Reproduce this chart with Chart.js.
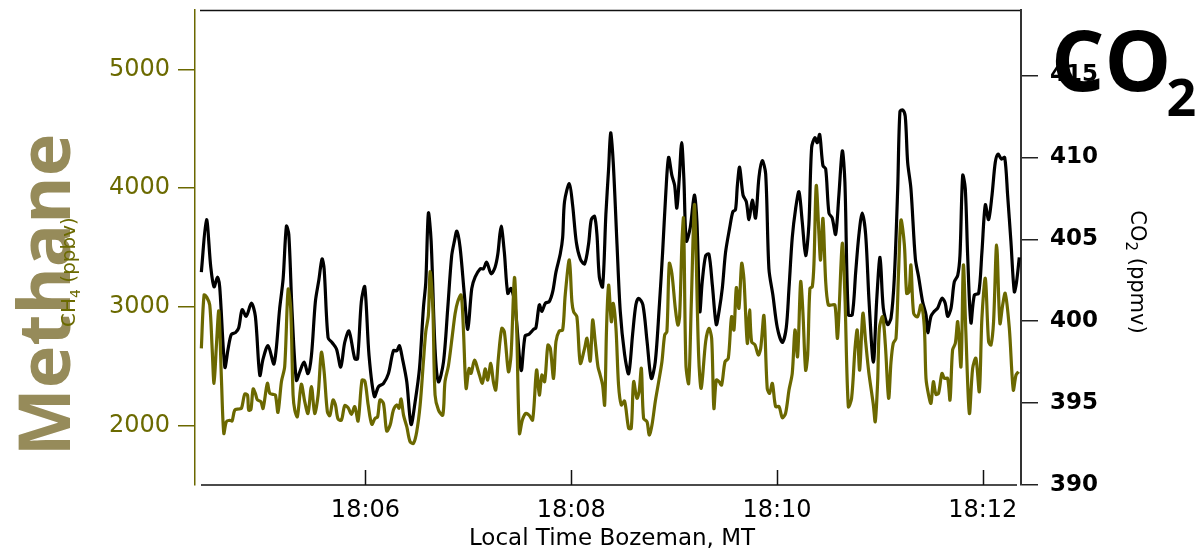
<!DOCTYPE html>
<html>
<head>
<meta charset="utf-8">
<title>CH4 / CO2 Bozeman</title>
<script src="https://cdn.jsdelivr.net/npm/chart.js@4.4.0/dist/chart.umd.min.js"></script>
<style>
  html, body { margin: 0; padding: 0; background: #fff; }
  canvas { display: block; }
</style>
</head>
<body>
<canvas id="gas" width="1197" height="551"></canvas>
<script>
// ============================================================
// Methane + CO2 time series, Bozeman MT (seconds after 18:00 local)
// ============================================================

const OLIVE = "#6b6800";
const OLIVE_TXT = "#6b6a00";
const KHAKI = "#968b5a";

// x ticks (s after 18:00) and y ticks for both axes
const timeTicks = [360, 480, 600, 720];
const ch4Ticks = [2000, 3000, 4000, 5000];
const co2Ticks = [390, 395, 400, 405, 410, 415];

const co2Time = [
  264.3, 267.3, 269.8, 271.7, 273.7, 275.0, 278.0, 279.9, 281.8, 284.2, 286.1, 288.1, 290.5, 293.5, 295.8, 298.4,
  300.3, 303.2, 306.7, 310.0, 312.0, 313.9, 315.3, 317.2, 319.7, 321.7, 324.2, 326.5, 328.5, 330.8, 332.8, 334.7,
  335.9, 338.2, 340.5, 343.1, 345.6, 347.9, 350.4, 353.8, 355.4, 357.6, 359.6, 362.1, 365.2, 367.6, 370.5, 373.4,
  376.3, 378.3, 379.8, 381.6, 384.1, 386.6, 389.0, 391.5, 393.8, 395.2, 396.7, 398.3, 400.6, 402.6, 405.5, 408.0,
  410.3, 411.9, 413.3, 415.2, 417.7, 419.7, 422.0, 424.0, 426.9, 428.8, 430.7, 433.3, 435.6, 437.2, 439.1, 441.0,
  443.0, 444.9, 447.3, 450.8, 453.1, 455.4, 458.0, 459.4, 461.4, 462.9, 464.9, 467.2, 469.2, 471.1, 473.6, 475.0,
  476.1, 478.9, 480.8, 483.0, 485.3, 487.8, 490.1, 491.7, 493.6, 495.0, 496.4, 498.3, 500.2, 501.8, 503.0, 504.5,
  506.7, 508.6, 511.1, 513.5, 515.8, 517.7, 519.3, 521.8, 524.2, 526.7, 529.0, 531.3, 533.3, 535.2, 536.8, 538.7,
  540.3, 541.6, 543.0, 544.4, 545.7, 547.1, 549.4, 551.8, 553.3, 555.0, 556.4, 558.4, 560.3, 562.3, 564.6, 566.2,
  568.1, 570.0, 572.4, 574.3, 575.8, 576.9, 578.2, 580.2, 582.1, 583.7, 585.6, 587.5, 589.5, 591.4, 593.4, 595.3,
  597.6, 600.2, 603.1, 605.4, 607.0, 608.9, 610.9, 612.8, 614.7, 616.7, 618.6, 620.2, 622.1, 623.5, 624.9, 626.8,
  628.4, 630.3, 632.2, 634.2, 636.1, 638.1, 639.6, 641.6, 643.9, 645.9, 647.8, 649.7, 651.7, 653.7, 656.2, 658.1,
  660.1, 662.0, 664.5, 666.5, 668.4, 670.4, 671.7, 673.3, 674.8, 676.2, 678.1, 680.7, 682.6, 684.9, 686.9, 687.9,
  689.8, 691.7, 693.7, 696.2, 698.1, 699.5, 701.5, 703.4, 705.4, 706.7, 708.3, 709.8, 711.2, 713.1, 715.1, 717.6,
  719.5, 721.5, 723.4, 725.4, 727.3, 728.9, 730.9, 732.8, 734.5, 736.4, 738.4, 739.7, 741.3
];
const co2Ppmv = [
  403.0, 406.2, 403.3, 402.1, 402.7, 402.1, 397.2, 398.3, 399.2, 399.3, 399.6, 400.7, 400.3, 401.1, 400.3, 396.7,
  397.7, 398.5, 397.4, 400.8, 402.6, 405.8, 405.3, 400.6, 396.4, 396.9, 397.5, 396.8, 397.9, 401.2, 402.5, 403.8,
  403.2, 399.0, 398.7, 398.3, 397.2, 398.7, 399.4, 397.7, 397.7, 401.2, 402.1, 397.9, 395.4, 396.0, 396.2, 396.8,
  398.2, 398.2, 398.5, 397.7, 396.3, 393.7, 395.1, 397.1, 400.8, 402.4, 406.6, 404.9, 398.3, 396.3, 397.5, 400.8,
  404.0, 404.9, 405.5, 404.5, 401.6, 399.5, 402.0, 402.7, 403.2, 403.2, 403.6, 402.9, 403.3, 404.1, 405.8, 404.2,
  401.7, 402.0, 400.9, 397.0, 399.1, 399.2, 399.5, 399.6, 401.0, 400.6, 401.1, 401.2, 401.8, 403.0, 404.1, 405.1,
  407.3, 408.4, 407.1, 404.8, 403.8, 403.5, 404.7, 406.2, 406.4, 405.3, 402.7, 402.1, 406.5, 409.3, 411.5, 409.7,
  404.7, 400.6, 398.0, 396.8, 399.2, 401.0, 401.4, 401.0, 398.8, 396.5, 397.5, 400.8, 404.2, 407.9, 410.0, 408.9,
  408.3, 406.9, 408.7, 410.9, 408.7, 404.9, 405.7, 407.7, 406.1, 400.6, 402.4, 404.0, 404.1, 402.2, 399.8, 400.6,
  402.0, 404.2, 405.7, 406.7, 406.8, 408.3, 409.4, 407.7, 407.3, 406.2, 407.4, 406.3, 408.8, 409.8, 409.0, 403.2,
  401.6, 399.6, 398.7, 399.6, 402.0, 405.1, 406.9, 407.9, 406.1, 404.0, 405.9, 410.6, 411.2, 410.9, 411.4, 409.5,
  409.3, 406.6, 406.3, 405.3, 407.7, 410.4, 408.5, 400.4, 400.4, 403.0, 405.3, 406.6, 405.3, 401.2, 397.5, 401.2,
  403.9, 400.8, 399.8, 400.2, 402.6, 408.1, 412.8, 412.9, 412.5, 409.7, 408.1, 403.8, 402.7, 401.2, 400.4, 399.3,
  400.3, 400.6, 400.8, 401.4, 401.1, 400.3, 400.8, 402.4, 402.8, 404.0, 408.9, 408.1, 404.0, 399.9, 401.6, 401.7,
  404.2, 407.1, 406.2, 407.7, 409.7, 410.2, 409.9, 410.0, 407.7, 404.9, 401.8, 402.4, 403.9
];

const ch4Time = [
  264.3, 265.9, 267.5, 269.2, 270.6, 271.7, 273.1, 274.5, 276.0, 277.4, 278.9, 280.9, 282.2, 283.8, 286.1, 287.7,
  289.6, 291.2, 291.9, 293.2, 294.5, 295.8, 297.0, 299.0, 300.3, 302.8, 304.2, 306.1, 307.5, 309.0, 311.0, 312.9,
  314.9, 316.4, 317.8, 318.8, 320.3, 322.6, 324.6, 326.5, 328.5, 330.4, 332.4, 334.3, 335.9, 337.8, 339.2, 341.1,
  342.5, 344.0, 346.0, 347.9, 349.9, 351.8, 353.8, 355.7, 358.0, 359.7, 361.6, 363.7, 365.6, 367.1, 368.5, 370.5,
  372.4, 374.4, 376.3, 378.3, 379.6, 380.8, 382.2, 384.1, 386.0, 388.0, 389.9, 391.9, 393.8, 395.2, 396.7, 397.7,
  399.3, 400.6, 402.6, 405.1, 406.4, 408.4, 410.7, 412.3, 413.8, 415.8, 417.1, 418.7, 420.4, 421.6, 423.6, 425.9,
  428.2, 429.8, 431.3, 433.1, 434.6, 436.0, 437.5, 439.5, 441.0, 443.4, 444.9, 446.9, 448.2, 449.8, 451.5, 453.5,
  455.4, 457.5, 459.8, 461.4, 462.9, 464.5, 466.4, 467.8, 469.7, 471.1, 473.0, 475.0, 476.5, 478.9, 480.4, 481.4,
  483.3, 485.3, 487.8, 489.2, 491.1, 492.5, 494.0, 495.6, 496.9, 498.3, 499.5, 500.6, 501.8, 503.4, 504.5, 506.1,
  507.6, 509.2, 511.1, 513.5, 515.0, 516.4, 518.3, 519.6, 520.9, 522.2, 524.2, 525.5, 527.1, 529.0, 531.0, 532.9,
  534.5, 535.8, 537.2, 538.7, 540.7, 542.2, 543.2, 544.6, 545.5, 546.9, 548.5, 550.0, 551.8, 552.7, 554.3, 555.8,
  558.4, 560.3, 561.9, 563.2, 564.6, 566.2, 567.7, 569.7, 571.6, 573.5, 574.9, 576.3, 577.8, 579.4, 580.7, 582.7,
  584.0, 585.2, 587.2, 589.1, 590.5, 592.4, 594.3, 595.7, 597.3, 599.2, 601.2, 603.1, 605.0, 607.0, 608.9, 610.5,
  612.0, 613.8, 615.1, 616.7, 617.9, 619.2, 620.6, 621.6, 622.9, 624.5, 625.4, 626.8, 628.4, 629.9, 631.8, 633.8,
  635.2, 636.1, 638.1, 639.6, 641.6, 643.5, 645.5, 646.8, 648.2, 650.1, 651.7, 653.5, 656.2, 657.3, 658.7, 659.7,
  661.6, 663.2, 665.1, 666.5, 667.8, 669.4, 670.9, 672.3, 674.3, 675.6, 677.0, 678.1, 679.7, 682.0, 684.0, 685.9,
  686.9, 688.4, 689.8, 691.2, 692.7, 694.2, 696.2, 697.6, 699.5, 700.9, 702.4, 704.0, 705.4, 707.3, 708.7, 710.2,
  712.2, 714.1, 716.0, 718.0, 719.5, 721.5, 723.4, 724.8, 726.3, 728.1, 730.0, 731.6, 733.1, 735.5, 737.8, 739.4,
  740.9
];
const ch4Ppbv = [
  2651, 3100, 3080, 3016, 2651, 2356, 2679, 2965, 2398, 1935, 2033, 2045, 2039, 2131, 2140, 2145,
  2266, 2258, 2131, 2137, 2308, 2272, 2216, 2202, 2145, 2356, 2272, 2263, 2258, 2112, 2370, 2496,
  3148, 2988, 2258, 2131, 2075, 2348, 2202, 2103, 2328, 2103, 2258, 2617, 2454, 2117, 2084, 2216,
  2174, 2056, 2047, 2168, 2151, 2095, 2160, 2039, 2384, 2373, 2173, 2011, 2061, 2075, 2216, 2188,
  1955, 2005, 2131, 2174, 2146, 2224, 2089, 1991, 1865, 1851, 1949, 2174, 2538, 2791, 2931, 3296,
  2987, 2258, 2131, 2089, 2370, 2505, 2763, 2945, 3044, 3100, 2819, 2314, 2482, 2440, 2552, 2454,
  2356, 2477, 2384, 2524, 2370, 2300, 2567, 2819, 2791, 2454, 2594, 3246, 2819, 1935, 2047, 2103,
  2089, 2047, 2468, 2258, 2426, 2370, 2679, 2651, 2398, 2707, 2797, 2805, 3100, 3395, 3044, 2959,
  2917, 2524, 2651, 2735, 2544, 2889, 2707, 2496, 2426, 2342, 2174, 2819, 3184, 2875, 3030, 2819,
  2342, 2174, 2207, 1977, 1977, 2370, 2230, 2286, 2482, 2061, 2033, 1921, 2005, 2202, 2370, 2538,
  2763, 2791, 3366, 3282, 2988, 2847, 2917, 3549, 3745, 2510, 2356, 3016, 3858, 3521, 2594, 2314,
  2707, 2819, 2735, 2145, 2384, 2370, 2342, 2538, 2567, 2917, 2805, 3162, 2988, 3366, 3240, 2693,
  2974, 2707, 2679, 2595, 2651, 2926, 2314, 2272, 2356, 2160, 2160, 2067, 2103, 2300, 2440, 2805,
  2581, 3212, 2959, 2468, 2595, 3156, 3170, 3380, 4021, 3605, 3395, 3745, 3212, 3016, 3016, 3016,
  2735, 2931, 3535, 3100, 2159, 2230, 2651, 2805, 2468, 2945, 2707, 2454, 2174, 2033, 2370, 2819,
  2917, 2679, 2230, 2538, 2693, 2735, 3296, 3731, 3521, 3114, 3128, 3352, 2945, 2917, 3016, 2833,
  2398, 2258, 2188, 2370, 2263, 2272, 2440, 2398, 2398, 2216, 2637, 2693, 2875, 2496, 3352, 2763,
  2103, 2482, 2567, 2286, 2903, 3240, 2707, 2679, 2875, 3521, 2861, 3016, 3114, 2819, 2300, 2426,
  2454
];

function hhmm(sec) {
  const m = Math.round(sec / 60);
  return "18:" + String(m).padStart(2, "0");
}

// Draw a run of text pieces (for subscripts) centred on cx,cy, optionally rotated
function drawRich(ctx, parts, cx, cy, angle) {
  ctx.save();
  ctx.translate(cx, cy);
  ctx.rotate(angle || 0);
  ctx.textBaseline = "alphabetic";
  ctx.textAlign = "left";
  let total = 0;
  parts.forEach(p => { ctx.font = p.font; p.w = ctx.measureText(p.text).width; total += p.w; });
  let x = -total / 2;
  parts.forEach(p => {
    ctx.font = p.font;
    ctx.fillStyle = p.color;
    ctx.fillText(p.text, x, p.dy);
    x += p.w;
  });
  ctx.restore();
}

// keep the plot box fixed: no extra room for half-labels at the ends
function noEndPadding(s) {
  s.paddingTop = 0; s.paddingBottom = 0; s.paddingLeft = 0; s.paddingRight = 0;
}

// frame lines, inward time ticks and all the titles
const frameAndTitles = {
  id: "frameAndTitles",
  afterDraw(chart) {
    const ctx = chart.ctx;
    const xs = chart.scales.x;
    const top = chart.chartArea.top, bottom = chart.chartArea.bottom;
    ctx.save();
    ctx.strokeStyle = "#111";
    ctx.lineWidth = 1.5;
    ctx.beginPath();
    ctx.moveTo(200, top + 0.5); ctx.lineTo(1020, top + 0.5);
    ctx.moveTo(201, bottom); ctx.lineTo(1017, bottom);
    timeTicks.forEach(t => {
      const px = Math.round(xs.getPixelForValue(t)) + 0.5;
      ctx.moveTo(px, bottom); ctx.lineTo(px, bottom - 15);
    });
    ctx.stroke();
    ctx.restore();

    ctx.save();
    ctx.fillStyle = "#000";
    ctx.font = "23px 'DejaVu Sans'";
    ctx.textAlign = "center";
    ctx.textBaseline = "middle";
    ctx.fillText("Local Time Bozeman, MT", 612, 539);
    ctx.restore();

    // big left label, then the small axis title over it
    drawRich(ctx, [{ text: "Methane", font: "bold 72px 'Open Sans'", color: KHAKI, dy: 26 }], 44, 295, -Math.PI / 2);
    drawRich(ctx, [
      { text: "CH", font: "20px 'DejaVu Sans'", color: OLIVE_TXT, dy: 7 },
      { text: "4", font: "14px 'DejaVu Sans'", color: OLIVE_TXT, dy: 12 },
      { text: " (ppbv)", font: "20px 'DejaVu Sans'", color: OLIVE_TXT, dy: 7 },
    ], 68, 272, -Math.PI / 2);

    drawRich(ctx, [
      { text: "CO", font: "500 21px 'DejaVu Sans'", color: "#000", dy: 7 },
      { text: "2", font: "15px 'DejaVu Sans'", color: "#000", dy: 12 },
      { text: " (ppmv)", font: "500 21px 'DejaVu Sans'", color: "#000", dy: 7 },
    ], 1138, 272, Math.PI / 2);

    ctx.save();
    ctx.fillStyle = "#000";
    ctx.textBaseline = "alphabetic";
    ctx.font = "bold 84px 'Open Sans'";
    ctx.fillText("CO", 1051, 91);
    const w = ctx.measureText("CO").width;
    ctx.font = "bold 52px 'Open Sans'";
    ctx.fillText("2", 1051 + w - 5, 116);
    ctx.restore();
  },
};

const ch4Points = ch4Time.map((t, i) => ({ x: t, y: ch4Ppbv[i] }));
const co2Points = co2Time.map((t, i) => ({ x: t, y: co2Ppmv[i] }));

new Chart(document.getElementById("gas"), {
  type: "line",
  data: {
    datasets: [
      { label: "CH4", data: ch4Points, yAxisID: "yCh4", borderColor: OLIVE, borderWidth: 3.2, pointRadius: 0, tension: 0.3 },
      { label: "CO2", data: co2Points, yAxisID: "yCo2", borderColor: "#000", borderWidth: 3.2, pointRadius: 0, tension: 0.3 },
    ],
  },
  options: {
    responsive: false,
    animation: false,
    events: [],
    layout: { padding: { top: 10, left: 0, right: 0, bottom: 0 } },
    plugins: { legend: { display: false }, tooltip: { enabled: false } },
    scales: {
      x: {
        type: "linear",
        min: 260.6,
        max: 742.3,
        afterFit(s) { s.height = 66; noEndPadding(s); },
        afterBuildTicks(s) { s.ticks = timeTicks.map(v => ({ value: v })); },
        grid: { display: false, drawTicks: false },
        border: { display: false },
        ticks: { color: "#000", font: { family: "'DejaVu Sans'", size: 24 }, padding: 11, maxRotation: 0, autoSkip: false, callback: v => hhmm(v) },
      },
      yCh4: {
        position: "left",
        min: 1500,
        max: 5500,
        afterFit(s) { s.width = 195; noEndPadding(s); },
        afterBuildTicks(s) { s.ticks = ch4Ticks.map(v => ({ value: v })); },
        grid: { drawOnChartArea: false, drawTicks: true, tickLength: 17, color: OLIVE, lineWidth: 1.5 },
        border: { display: true, color: OLIVE, width: 1.5 },
        ticks: { color: OLIVE_TXT, font: { family: "'DejaVu Sans'", size: 24 }, padding: 8, callback: v => String(v) },
      },
      yCo2: {
        position: "right",
        min: 390,
        max: 419,
        afterFit(s) { s.width = 176; noEndPadding(s); },
        afterBuildTicks(s) { s.ticks = co2Ticks.map(v => ({ value: v })); },
        grid: { drawOnChartArea: false, drawTicks: true, tickLength: 17, color: "#222", lineWidth: 1.5 },
        border: { display: true, color: "#333", width: 2 },
        ticks: { color: "#000", font: { family: "'DejaVu Sans'", size: 23, weight: "bold" }, padding: 12, callback: v => String(v) },
      },
    },
  },
  plugins: [frameAndTitles],
});
</script>
</body>
</html>
